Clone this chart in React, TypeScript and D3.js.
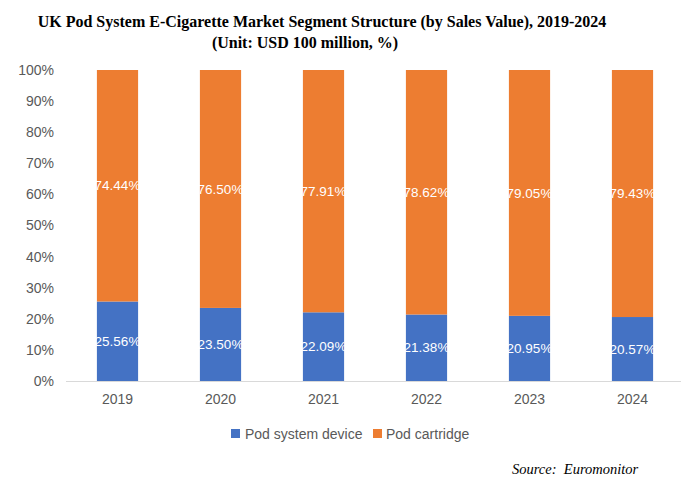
import React from 'react'
import * as d3 from 'd3'

const years = ['2019', '2020', '2021', '2022', '2023', '2024']
const podDevice = [25.56, 23.5, 22.09, 21.38, 20.95, 20.57]
const podCartridge = [74.44, 76.5, 77.91, 78.62, 79.05, 79.43]
const seriesNames = ['Pod system device', 'Pod cartridge']
const seriesColors = ['#4472C4', '#ED7D31']
const yTicks = [0, 10, 20, 30, 40, 50, 60, 70, 80, 90, 100]

const W = 684
const H = 492
const margin = { top: 70, right: 0, bottom: 111, left: 66 }

export default function App() {
    const innerW = W - margin.left - margin.right
    const innerH = H - margin.top - margin.bottom

    const x = d3.scaleBand().domain(years).range([0, innerW]).paddingInner(0.6).paddingOuter(0.3)
    const y = d3.scaleLinear().domain([0, 100]).range([innerH, 0])

    const rows = years.map((yr, i) => ({ year: yr, device: podDevice[i], cartridge: podCartridge[i] }))
    const stacked = d3.stack<any>().keys(['device', 'cartridge'])(rows)
    const sans = '"Liberation Sans", Arial, Helvetica, sans-serif'
    const serif = '"Liberation Serif", "Times New Roman", serif'

    return (
        <svg width={W} height={H} style={{ position: 'absolute', left: 0, top: 0 }}>
            <rect width={W} height={H} fill="#fff" />
            <text x={322} y={27} textAnchor="middle" fontFamily={serif} fontWeight="bold" fontSize={16} fill="#000">
                UK Pod System E-Cigarette Market Segment Structure (by Sales Value), 2019-2024
            </text>
            <text x={305} y={48} textAnchor="middle" fontFamily={serif} fontWeight="bold" fontSize={16} fill="#000">
                (Unit: USD 100 million, %)
            </text>
            <g transform={`translate(${margin.left},${margin.top})`}>
                {yTicks.map(t => (
                    <text key={t} x={-12} y={y(t)} dy="0.35em" textAnchor="end" fontFamily={sans}
                        fontSize={14} fill="#595959">{t}%</text>
                ))}
                <line x1={0} x2={innerW - 3} y1={innerH + 0.5} y2={innerH + 0.5} stroke="#d9d9d9" />
                {stacked.map((s, si) => (
                    <g key={si}>
                        {s.map((d, i) => (
                            <rect key={i} x={x(years[i])} y={y(d[1])} width={x.bandwidth()}
                                height={y(d[0]) - y(d[1])} fill={seriesColors[si]} />
                        ))}
                    </g>
                ))}
                {stacked.map((s, si) => (
                    <g key={'l' + si}>
                        {s.map((d, i) => (
                            <text key={i} x={(x(years[i]) as number) + x.bandwidth() / 2} y={y((d[0] + d[1]) / 2)}
                                dy="0.35em" textAnchor="middle" fontFamily={sans} fontSize={13.5} fill="#fff">
                                {(d[1] - d[0]).toFixed(2)}%
                            </text>
                        ))}
                    </g>
                ))}
                {years.map(yr => (
                    <text key={yr} x={(x(yr) as number) + x.bandwidth() / 2} y={innerH + 18} dy="0.35em"
                        textAnchor="middle" fontFamily={sans} fontSize={14} fill="#595959">{yr}</text>
                ))}
            </g>
            <g transform="translate(231,434)">
                <rect x={0} y={-5} width={9} height={9} fill={seriesColors[0]} />
                <text x={14} y={0} dy="0.35em" fontFamily={sans} fontSize={14} fill="#595959">{seriesNames[0]}</text>
                <rect x={142} y={-5} width={9} height={9} fill={seriesColors[1]} />
                <text x={155} y={0} dy="0.35em" fontFamily={sans} fontSize={14} fill="#595959">{seriesNames[1]}</text>
            </g>
            <text x={512} y={474} fontFamily={serif} fontStyle="italic" fontSize={14.5} fill="#000"
                style={{ whiteSpace: 'pre' }}>
                {'Source:  Euromonitor'}
            </text>
        </svg>
    )
}
